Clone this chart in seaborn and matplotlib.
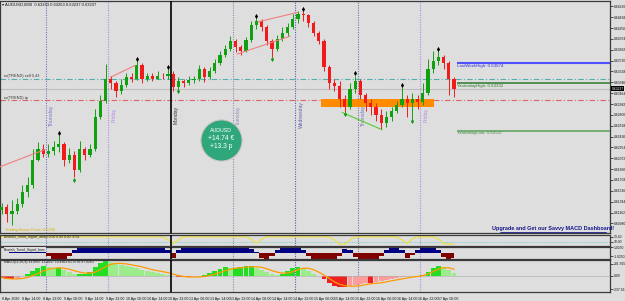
import numpy as np
import pandas as pd
import matplotlib
matplotlib.use("Agg")
import matplotlib.pyplot as plt
import matplotlib.transforms as mtransforms
from matplotlib.patches import Rectangle
from matplotlib.lines import Line2D
import seaborn as sns

# AUDUSD in 2-hour buckets; bar 0 = 8 Apr 06:00
first_open = 0.6120
closes = [0.6125, 0.6113, 0.6118, 0.6130, 0.6151, 0.6163, 0.6205, 0.6222, 0.6215, 0.6220,
          0.6226, 0.6231, 0.6205, 0.6212, 0.6188, 0.6222, 0.6212, 0.6222, 0.6276, 0.6303,
          0.6340, 0.6333, 0.6320, 0.6330, 0.6343, 0.6341, 0.6363, 0.6340, 0.6345, 0.6341,
          0.6346, 0.6345, 0.6348, 0.6326, 0.6336, 0.6333, 0.6338, 0.6340, 0.6357, 0.6343,
          0.6353, 0.6367, 0.6380, 0.6390, 0.6404, 0.6394, 0.6387, 0.6405, 0.6431, 0.6437,
          0.6427, 0.6404, 0.6390, 0.6407, 0.6417, 0.6427, 0.6441, 0.6449, 0.6447, 0.6434,
          0.6417, 0.6404, 0.6360, 0.6333, 0.6328, 0.6307, 0.6293, 0.6323, 0.6336, 0.6313,
          0.6300, 0.6293, 0.6280, 0.6266, 0.6276, 0.6286, 0.6297, 0.6307, 0.6300, 0.6307,
          0.6301, 0.6317, 0.6357, 0.6370, 0.6377, 0.6367, 0.6340, 0.6323]
highs = [0.6133, 0.6130, 0.6138, 0.6141, 0.6163, 0.6175, 0.6222, 0.6234, 0.6232, 0.6231,
         0.6236, 0.6246, 0.6234, 0.6224, 0.6219, 0.6236, 0.6226, 0.6231, 0.6290, 0.6313,
         0.6365, 0.6346, 0.6336, 0.6340, 0.6350, 0.6351, 0.6370, 0.6367, 0.6351, 0.6350,
         0.6353, 0.6351, 0.6357, 0.6353, 0.6343, 0.6341, 0.6345, 0.6346, 0.6363, 0.6360,
         0.6360, 0.6374, 0.6387, 0.6397, 0.6412, 0.6407, 0.6397, 0.6410, 0.6437, 0.6442,
         0.6441, 0.6431, 0.6407, 0.6414, 0.6427, 0.6434, 0.6449, 0.6454, 0.6454, 0.6449,
         0.6437, 0.6420, 0.6407, 0.6363, 0.6340, 0.6336, 0.6313, 0.6333, 0.6346, 0.6340,
         0.6317, 0.6307, 0.6300, 0.6290, 0.6286, 0.6293, 0.6303, 0.6326, 0.6313, 0.6317,
         0.6313, 0.6333, 0.6374, 0.6387, 0.6387, 0.6380, 0.6370, 0.6343]
lows = [0.6113, 0.6101, 0.6096, 0.6113, 0.6126, 0.6143, 0.6158, 0.6202, 0.6209, 0.6209,
        0.6212, 0.6217, 0.6195, 0.6200, 0.6175, 0.6185, 0.6205, 0.6209, 0.6219, 0.6273,
        0.6300, 0.6323, 0.6310, 0.6315, 0.6326, 0.6335, 0.6338, 0.6333, 0.6336, 0.6336,
        0.6340, 0.6340, 0.6341, 0.6320, 0.6323, 0.6326, 0.6330, 0.6333, 0.6336, 0.6335,
        0.6340, 0.6350, 0.6363, 0.6377, 0.6387, 0.6385, 0.6380, 0.6385, 0.6402, 0.6424,
        0.6420, 0.6397, 0.6377, 0.6387, 0.6404, 0.6412, 0.6424, 0.6434, 0.6437, 0.6427,
        0.6412, 0.6399, 0.6353, 0.6323, 0.6320, 0.6293, 0.6285, 0.6290, 0.6317, 0.6307,
        0.6286, 0.6280, 0.6270, 0.6256, 0.6259, 0.6270, 0.6283, 0.6293, 0.6276, 0.6273,
        0.6290, 0.6297, 0.6313, 0.6350, 0.6363, 0.6357, 0.6313, 0.6310]

fractal_up = [11, 26, 32, 49, 58, 68, 77, 84]
fractal_down = [14, 34, 52, 66, 79]

# levels drawn on the chart
last_week_high = 0.63674
yesterday_high = 0.63332
yesterday_low = 0.62537
sell_level = 0.63400
tp_level = 0.63043
current_price = 0.63237
zone_bars = (61.4, 83.2)
zone_prices = (0.62925, 0.63059)
levels_from_bar = 87.6

# hand drawn trend lines: (bar0, price0, bar1, price1, colour)
trend_lines = [(-0.3, 0.6193, 8.4, 0.6222, '#f08080'),
               (20.9, 0.6343, 25.7, 0.6363, '#f08080'),
               (49.3, 0.6436, 57.0, 0.6452, '#f08080'),
               (45.3, 0.6382, 55.5, 0.6412, '#f08080'),
               (65.5, 0.6284, 73.2, 0.6255, '#55cc33')]

price_ticks = [0.64620, 0.64438, 0.64256, 0.64074, 0.63892, 0.63710, 0.63528, 0.63346,
               0.63164, 0.62982, 0.62800, 0.62618, 0.62436, 0.62254, 0.62072, 0.61890,
               0.61708, 0.61526, 0.61344, 0.61162, 0.60980]

day_names = ['Thursday', 'Friday', 'Monday', 'Tuesday', 'Wednesday', 'Thursday', 'Friday']
day_bars = [9, 21, 33, 45, 57, 69, 81]
day_colors = ['#7474c8', '#b088e8', '#000000', '#8c8cb4', '#5c5cb0', '#7474a8', '#b088e8']

time_bars = [0, 4, 8, 12, 16, 20, 24, 28, 32, 36, 40, 44, 48, 52, 56, 60, 64, 68, 72, 76, 80, 84]
time_labels = ['8 Apr 2020', '8 Apr 14:00', '8 Apr 22:00', '9 Apr 06:00', '9 Apr 14:00',
               '9 Apr 22:00', '10 Apr 06:00', '10 Apr 14:00', '10 Apr 22:00', '13 Apr 06:00',
               '13 Apr 14:00', '13 Apr 22:00', '14 Apr 06:00', '14 Apr 14:00', '14 Apr 22:00',
               '15 Apr 06:00', '15 Apr 14:00', '15 Apr 22:00', '16 Apr 06:00', '16 Apr 14:00',
               '16 Apr 22:00', '17 Apr 06:00']

arrow_line = [1, 1, 1, 1, 1, 1, 1, 1, 1, 1,
              1, 1, 1, 1, 1, 1, 1, 1, 1, 1,
              1, 1, 1, 1, 1, 1, 1, 1, 1, 1,
              1, 1, 0.6, 0.1, 0.6, 1, 1, 1, 1, 1,
              1, 1, 1, 1, 1, 1, 1, 1, 0.7, 0.1,
              0.7, 1, 1, 1, 1, 1, 1, 1, 1, 1,
              1, 1, 1, 1, 0.6, 0.0, 0.0, 0.6, 1, 1,
              1, 1, 1, 1, 1, 1, 1, 0.6, 0.1, 0.7,
              1, 1, 1, 1, 0.7, 0.1, 0.0, 0.0]

trend_bars = [0, 0, 0.6, 1, 1, 1, 1, 1, 0.5, -0.5,
              -1, -1, -1, -0.6, 0.6, 1, 1, 1, 1, 1,
              1, 1, 1, 1, 1, 1, 1, 1, 1, 1,
              1, 1, 0.5, -0.8, 0.6, 1, 1, 1, 1, 1,
              1, 1, 1, 1, 1, 1, 1, 1, 0.7, 0.2,
              -0.8, -1, -0.6, 0.6, 1, 1, 1, 1, 0.5, -0.6,
              -1, -1, -1, -1, -1, -0.6, 0.7, 0.5, -0.7, -1,
              -1, -1, -1, -0.5, 0.6, 1, 1, 0.5, -0.8, -0.3,
              0.6, 1, 1, 1, 0.6, -0.7, -1, -0.8]

macd_hist = [-3, -4, -4, -3, -1, 2, 5, 8, 10, 9,
             8, 8, 6, 4, 2, 2, 2, 4, 9, 13,
             15, 14, 12, 11, 10, 9, 8, 6, 5, 4,
             3, 2, 1, -1, -2, -2, -2, -1, -1, 1,
             3, 5, 7, 9, 8, 8, 9, 10, 10, 8,
             6, 4, 2, 1, 2, 5, 8, 9, 8, 5,
             2, -1, -4, -8, -11, -12, -12, -11, -10, -9,
             -8, -8, -7, -6, -5, -4, -3, -2, -1, -1,
             -1, 1, 4, 8, 10, 9, 6, 3]
macd_signal = [-2, -3, -3.5, -3.5, -3, -2, 0, 2, 4.5, 6.5,
               7.5, 8, 7.5, 6.5, 5, 3.5, 2.5, 2.5, 3.5, 6,
               9, 11.5, 12.5, 12.5, 12, 11, 10, 9, 7.5, 6,
               5, 4, 3, 1.5, 0, -1, -1.5, -1.5, -1.5, -1,
               0, 1.5, 3, 5, 6.5, 7.5, 8, 8.5, 9, 9,
               8.5, 7, 5, 3.5, 2.5, 2.5, 4, 6, 7.5, 7.5,
               6, 3.5, 0.5, -3, -6.5, -9, -10.5, -11, -11, -10.5,
               -9.5, -8.5, -8, -7.5, -6.5, -5.5, -4.5, -3.5, -2.5, -1.5,
               -1, 0, 1.5, 4, 6.5, 8, 8, 6.5]

sns.set_theme(style="white")
plt.rcParams['font.family'] = ['Liberation Sans', 'DejaVu Sans']

bg = '#dedede'
W, H = 625, 301
xmin, xmax = -0.3, 117.0
fig = plt.figure(figsize=(6.25, 3.01), dpi=100, facecolor=bg)


def box(x0, y0, x1, y1):
    return [x0 / W, 1 - y1 / H, (x1 - x0) / W, (y1 - y0) / H]


ax = fig.add_axes(box(0, 1, 610, 233))
axA = fig.add_axes(box(0, 235, 610, 246))
axB = fig.add_axes(box(0, 247, 610, 259))
axC = fig.add_axes(box(0, 260, 610, 292))

for a in (ax, axA, axB, axC):
    a.set_facecolor(bg)
    for s in a.spines.values():
        s.set_color('#3a3a3a')
        s.set_linewidth(0.9)
    a.yaxis.tick_right()
    a.tick_params(axis='y', labelsize=2.4, length=2, width=0.5, pad=1, colors='#111111')
    a.set_xticks([])
    for b, c in zip(day_bars, day_colors):
        if c == '#000000':
            a.axvline(b - 0.5, color=c, lw=1.2, zorder=6)
        else:
            a.axvline(b - 0.5, color=c, lw=0.8, ls=(0, (1, 1.2)), zorder=1)

# ---- main price panel ----
df = pd.DataFrame({'close': closes, 'high': highs, 'low': lows})
df['open'] = [first_open] + closes[:-1]
df['bar'] = np.arange(len(df))
up = df['close'] >= df['open']
cols = np.where(up, '#10a010', '#f01c1c')

ax.add_patch(Rectangle((zone_bars[0], zone_prices[0]), zone_bars[1] - zone_bars[0],
                       zone_prices[1] - zone_prices[0], color='#ff8c00', lw=0, zorder=2))
ax.axhline(sell_level, color='#52b0b0', lw=0.8, ls=(0, (5, 2, 1, 2)), zorder=1)
ax.axhline(tp_level, color='#e06464', lw=0.8, ls=(0, (5, 2, 1, 2)), zorder=1)
ax.axhline(current_price, color='#bdbdbd', lw=0.8, zorder=1)

ax.vlines(df['bar'], df['low'], df['high'], colors=cols, lw=0.7, zorder=3)
body = (df['close'] - df['open']).abs().clip(lower=0.00005)
ax.bar(df['bar'], body, bottom=df[['open', 'close']].min(axis=1), width=0.62,
       color=cols, lw=0, zorder=4)

for x0, y0, x1, y1, c in trend_lines:
    ax.plot([x0, x1], [y0, y1], color=c, lw=0.8, zorder=5)

sns.scatterplot(x=df['bar'][fractal_up], y=df['high'][fractal_up] + 0.00035, ax=ax,
                marker='d', s=7, color='black', linewidth=0, zorder=7)
sns.scatterplot(x=df['bar'][fractal_down], y=df['low'][fractal_down] - 0.00035, ax=ax,
                marker='d', s=7, color='#129912', linewidth=0, zorder=7)

ax.hlines(last_week_high, levels_from_bar, xmax, color='#5050ff', lw=1.5, zorder=5)
ax.hlines(yesterday_high, levels_from_bar, xmax, color='#2c7a2c', lw=1.1, zorder=5)
ax.hlines(yesterday_low, levels_from_bar, xmax, color='#5aa05a', lw=1.1, zorder=5)
ax.text(levels_from_bar, last_week_high - 0.00015, 'LastWeekHigh: 0.63674', fontsize=3.2,
        color='#3333dd', va='top')
ax.text(levels_from_bar, yesterday_high - 0.00015, 'YesterdayHigh: 0.63332', fontsize=3.2,
        color='#2c7a2c', va='top')
ax.text(levels_from_bar, yesterday_low - 0.00015, 'YesterdayLow: 0.62537', fontsize=3.2,
        color='#3f8a3f', va='top')

ax.text(0.5, sell_level + 0.00012, 'ro(TREND) sell 0.43', fontsize=2.8, color='#333333', va='bottom')
ax.text(0.5, tp_level + 0.00012, 'ro(TREND) tp', fontsize=2.8, color='#333333', va='bottom')

for b, name, c in zip(day_bars, day_names, day_colors):
    ax.text(b + 0.1, 0.62800, name, rotation=90, fontsize=3.6,
            color=c if c != '#000000' else '#333333', va='center', ha='left')

ax.set_xlim(xmin, xmax)
ax.set_ylim(0.60819, 0.64710)
ax.set_yticks(price_ticks)
ax.set_yticklabels([f'{v:.5f}' for v in price_ticks])
ax.set_xlabel('')
ax.set_ylabel('')

blend = mtransforms.blended_transform_factory(ax.transAxes, ax.transData)
ax.text(1.003, current_price, f'{current_price:.5f}', transform=blend, fontsize=2.4,
        color='white', va='center', ha='left',
        bbox=dict(boxstyle='square,pad=0.12', fc='black', ec='none'))

# profit badge
ax.scatter([0.3627], [0.401], s=880, color='#2fa77b', edgecolors='#cfc5c5', linewidths=0.8,
           transform=ax.transAxes, zorder=8)
ax.text(0.3627, 0.441, 'AUDUSD', transform=ax.transAxes, fontsize=3.8, color='white',
        ha='center', va='center', zorder=9)
ax.text(0.3627, 0.409, '+14.74 €', transform=ax.transAxes, fontsize=4.8, color='white',
        ha='center', va='center', zorder=9)
ax.text(0.3627, 0.374, '+13.3 p', transform=ax.transAxes, fontsize=4.8, color='white',
        ha='center', va='center', zorder=9)

# ---- indicator 1: signal arrow line ----
bars = np.arange(len(arrow_line))
axA.axhline(0.35, color='#66cccc', lw=0.6, ls=(0, (1, 1)))
sns.lineplot(x=bars, y=arrow_line, ax=axA, color='#f2e21c', lw=0.7)
axA.set_ylim(-0.25, 1.25)
axA.set_yticks([1, 0.35])
axA.set_yticklabels(['13.40', '10.00'])
axA.text(0.5, 1.2, 'Bearish_Trend_Signal_arrow 0.00 0.00 0.00 -8.54', fontsize=2.4,
         color='#222222', va='top')

# ---- indicator 2: signal bars ----
tb = np.array(trend_bars, dtype=float)
axB.fill_between(bars, 0, np.where(tb > 0, tb, 0), step='mid', color='#000080', lw=0)
axB.fill_between(bars, 0, np.where(tb < 0, tb, 0), step='mid', color='#800000', lw=0)
axB.set_ylim(-1.05, 1.05)
axB.set_yticks([1, -0.6])
axB.set_yticklabels(['1.0250', '-1.0250'])
axB.text(0.5, 0.95, 'Bearish_Trend_Signal_bars', fontsize=2.4, color='#222222', va='top',
         bbox=dict(boxstyle='square,pad=0.1', fc=bg, ec='none'))

# ---- indicator 3: MACD ----
hist = np.array(macd_hist, dtype=float)
prev = np.r_[hist[0], hist[:-1]]
hcols = np.where(hist >= 0, np.where(hist >= prev, '#22dd22', '#9cec8c'),
                 np.where(hist <= prev, '#ee2020', '#ff9c9c'))
axC.bar(bars, hist, width=0.95, color=hcols, lw=0)
axC.axhline(0, color='#aaaaaa', lw=0.4)
sns.lineplot(x=bars, y=macd_signal, ax=axC, color='#ff9900', lw=0.9)
axC.set_ylim(-17, 16)
axC.set_yticks([12, 0, -14])
axC.set_yticklabels(['231.565', '0.00', '-237.56'])
axC.text(0.5, 15.5, 'MACD(12,26,9) 13.4957 13.4057 13.4963 61.5736 87.0263', fontsize=2.4,
         color='#222222', va='top')
axC.set_xticks(time_bars)
axC.set_xticklabels(time_labels, fontsize=2.6, ha='left')
axC.tick_params(axis='x', length=2, width=0.5, pad=1.5, colors='#111111')

for a in (axA, axB, axC):
    a.set_xlim(xmin, xmax)
    a.set_ylabel('')
    a.set_xlabel('')

# header and footer texts
fig.text(2 / W, 1 - 4.5 / H, '▾ AUDUSD,M30  0.63263 0.63263 0.63237 0.63237', fontsize=3,
         color='#111111', va='center')
fig.text(5 / W, 1 - 230 / H, 'Trading Bonus Force: 0.0000', fontsize=2.8, color='#d8b000',
         va='center')
fig.text(553 / W, 1 - 228.5 / H, 'Upgrade and Get our Savvy MACD Dashboard!', fontsize=4,
         fontweight='bold', color='#16168c', ha='center', va='center')
fig.add_artist(Line2D([500 / W, 606 / W], [1 - 231.5 / H, 1 - 231.5 / H], color='#16168c', lw=0.6))

fig.savefig('out.png', dpi=100, facecolor=bg)
